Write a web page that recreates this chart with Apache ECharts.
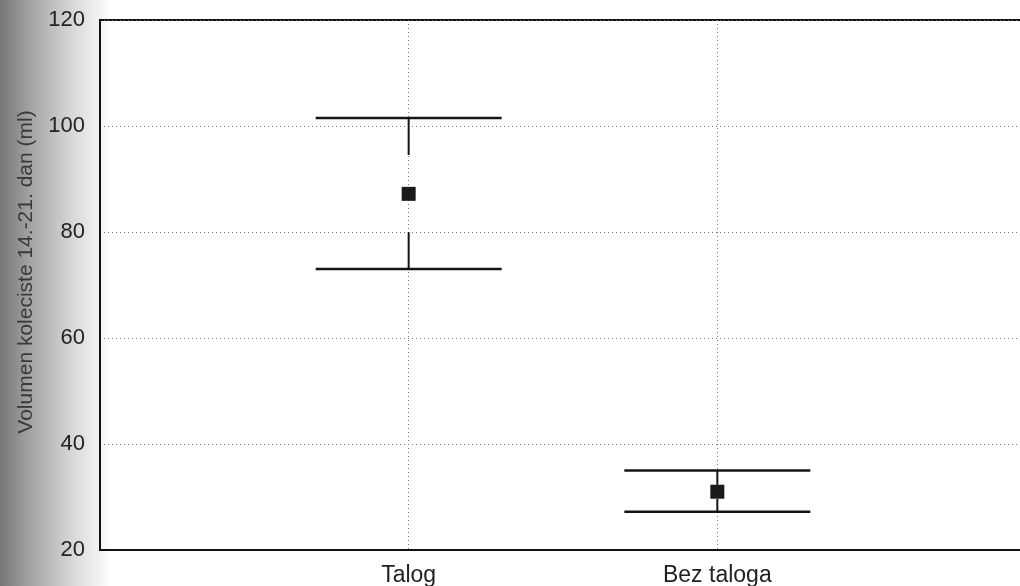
<!DOCTYPE html>
<html>
<head>
<meta charset="utf-8">
<script src="https://cdn.jsdelivr.net/npm/echarts@6/dist/echarts.min.js"></script>
<style>
html,body{margin:0;padding:0;background:#fff;}
#chart{width:1020px;height:586px;}
</style>
</head>
<body>
<div id="chart"></div>
<script>
// ---- data ----
var categories = ['Talog', 'Bez taloga'];
var meanValues = [87.2, 31.0];
var upperValues = [101.5, 35.0];
var lowerValues = [73.0, 27.2];
var yTicks = [20, 40, 60, 80, 100, 120];
var yAxisTitle = 'Volumen koleciste 14.-21. dan (ml)';

var chart = echarts.init(document.getElementById('chart'), null, {renderer: 'canvas'});

var errData = categories.map(function (c, i) {
  return [i + 1, lowerValues[i], upperValues[i], meanValues[i]];
});
var meanData = categories.map(function (c, i) {
  return [i + 1, meanValues[i]];
});

var CAP_HALF = 93;   // px
var STUB = 37;       // px
var MARK = 14;       // px

var option = {
  backgroundColor: '#ffffff',
  animation: false,
  graphic: [{
    type: 'rect',
    z: -10,
    silent: true,
    shape: {x: 0, y: 0, width: 112, height: 586},
    style: {
      fill: new echarts.graphic.LinearGradient(0, 0, 1, 0, [
        {offset: 0, color: '#767676'},
        {offset: 0.3, color: '#a8a8a8'},
        {offset: 0.65, color: '#d8d8d8'},
        {offset: 1, color: '#ffffff'}
      ])
    }
  }],
  grid: {
    left: 100, width: 926, top: 20, bottom: 36,
    outerBoundsMode: 'none',
    containLabel: false,
    show: true, borderColor: '#111', borderWidth: 2, backgroundColor: 'transparent'
  },
  xAxis: {
    type: 'value',
    min: 0, max: 3, interval: 1,
    axisLine: {show: true, lineStyle: {color: '#111', width: 2}},
    axisTick: {show: false},
    axisLabel: {
      margin: 14,
      fontFamily: 'Liberation Sans, Arial, sans-serif',
      fontSize: 23,
      color: '#222',
      formatter: function (v) {
        var idx = Math.round(v) - 1;
        return (idx >= 0 && idx < categories.length && Math.abs(v - Math.round(v)) < 1e-6) ? categories[idx] : '';
      }
    },
    splitLine: {show: true, lineStyle: {color: '#777', type: [1, 3], width: 1}}
  },
  yAxis: {
    type: 'value',
    min: yTicks[0], max: yTicks[yTicks.length - 1], interval: 20,
    name: yAxisTitle,
    nameLocation: 'middle',
    nameGap: 63,
    nameTextStyle: {
      fontFamily: 'Liberation Sans, Arial, sans-serif',
      fontSize: 21,
      color: '#3a3a3a',
      padding: [0, 0, 0, 26]
    },
    axisLine: {show: true, lineStyle: {color: '#111', width: 2}},
    axisTick: {show: false},
    axisLabel: {
      margin: 15,
      fontFamily: 'Liberation Sans, Arial, sans-serif',
      fontSize: 22,
      color: '#222'
    },
    splitLine: {show: true, lineStyle: {color: '#777', type: [1, 3], width: 1}}
  },
  series: [
    {
      type: 'custom',
      data: errData,
      z: 3,
      renderItem: function (params, api) {
        var x = api.value(0);
        var pLow = api.coord([x, api.value(1)]);
        var pHigh = api.coord([x, api.value(2)]);
        var pMean = api.coord([x, api.value(3)]);
        var cx = pLow[0];
        var upEnd = Math.min(pHigh[1] + STUB, pMean[1] - MARK / 2);
        var lowEnd = Math.max(pLow[1] - STUB, pMean[1] + MARK / 2);
        var st = {stroke: '#151515', lineWidth: 2.5};
        return {
          type: 'group',
          children: [
            {type: 'line', shape: {x1: cx - CAP_HALF, y1: pHigh[1], x2: cx + CAP_HALF, y2: pHigh[1]}, style: st},
            {type: 'line', shape: {x1: cx - CAP_HALF, y1: pLow[1], x2: cx + CAP_HALF, y2: pLow[1]}, style: st},
            {type: 'line', shape: {x1: cx, y1: pHigh[1], x2: cx, y2: upEnd}, style: {stroke: '#151515', lineWidth: 2}},
            {type: 'line', shape: {x1: cx, y1: pLow[1], x2: cx, y2: lowEnd}, style: {stroke: '#151515', lineWidth: 2}}
          ]
        };
      }
    },
    {
      type: 'scatter',
      data: meanData,
      symbol: 'rect',
      symbolSize: MARK,
      z: 4,
      itemStyle: {color: '#1a1a1a', opacity: 1}
    }
  ]
};
chart.setOption(option);
</script>
</body>
</html>
